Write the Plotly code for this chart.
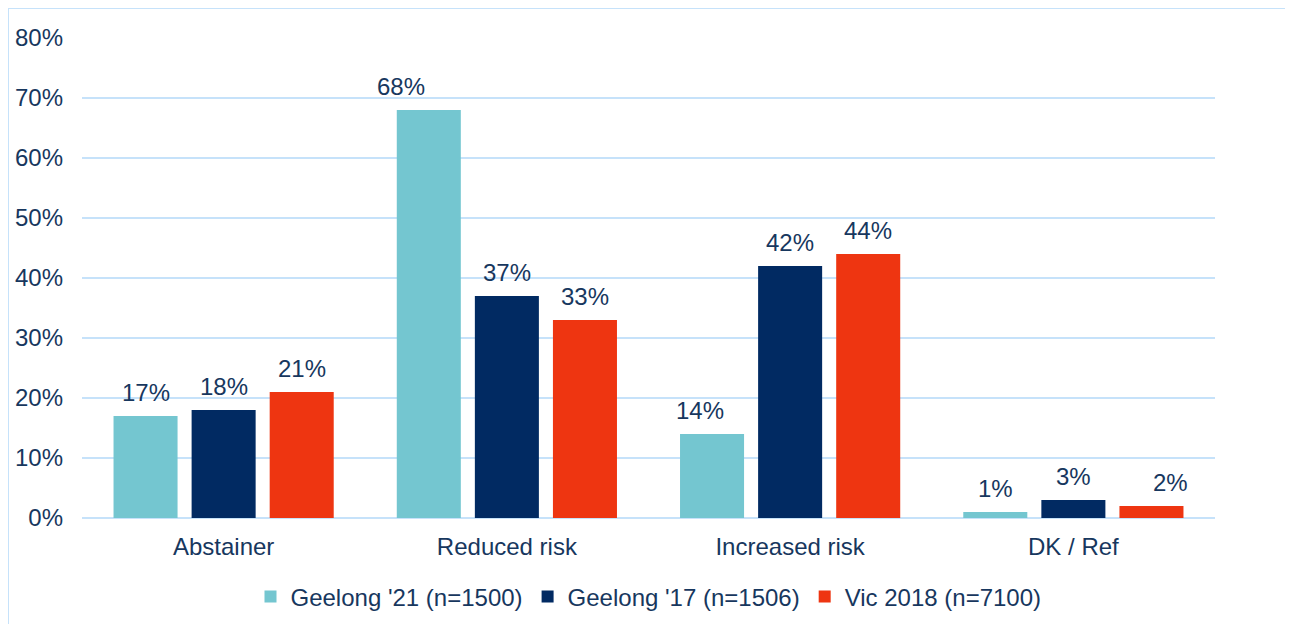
import plotly.graph_objects as go

categories = ["Abstainer", "Reduced risk", "Increased risk", "DK / Ref"]
series_names = ["Geelong '21 (n=1500)", "Geelong '17 (n=1506)", "Vic 2018 (n=7100)"]
geelong21 = [17, 68, 14, 1]
geelong17 = [18, 37, 42, 3]
vic2018 = [21, 33, 44, 2]
y_ticks = [0, 10, 20, 30, 40, 50, 60, 70, 80]

colors = ["#74C6D0", "#012A62", "#EE3511"]
text_color = "#17375E"
font_family = "Liberation Sans, Arial, sans-serif"
fs = 24

# style: horizontal nudges (px) of individual data labels, as placed in the original
label_nudge = [[0, -28, -12, 0], [0, 0, 0, 0], [0, 0, 0, 19]]
slot_px = 78  # width of one bar slot inside a group (px)

fig = go.Figure()
all_vals = [geelong21, geelong17, vic2018]
for name, vals, c in zip(series_names, all_vals, colors):
    fig.add_trace(go.Bar(
        x=categories, y=vals, name=name,
        marker=dict(color=c, line=dict(width=0)),
        hoverinfo="x+y+name",
    ))

for i, vals in enumerate(all_vals):
    for j, (cat, v) in enumerate(zip(categories, vals)):
        fig.add_annotation(
            x=cat, y=v, xref="x", yref="y", text=f"{v}%", showarrow=False,
            xanchor="center", yanchor="middle",
            xshift=(i - 1) * slot_px + label_nudge[i][j], yshift=24,
            font=dict(size=fs, color=text_color, family=font_family),
        )

# the page body adds an 8px offset, so the figure is sized to the remaining area
W, H = 1285, 616
ml, mr, mt, mb = 74, 78, 30, 106
pw, ph = W - ml - mr, H - mt - mb

fig.update_layout(
    width=W, height=H,
    margin=dict(l=ml, r=mr, t=mt, b=mb, autoexpand=False),
    paper_bgcolor="white", plot_bgcolor="white",
    barmode="group", bargap=0.173, bargroupgap=0.18,
    font=dict(family=font_family, size=fs, color=text_color),
    showlegend=True,
    legend=dict(orientation="h", x=0.5, xanchor="center", y=-79 / ph, yanchor="middle",
                font=dict(size=fs, color=text_color), itemwidth=30, traceorder="normal"),
    xaxis=dict(showgrid=False, showline=False, ticks="", tickfont=dict(size=fs, color=text_color),
               ticklabelstandoff=12, automargin=False),
    yaxis=dict(range=[0, 80], tickvals=y_ticks, ticktext=[f"{t}%" for t in y_ticks],
               showgrid=True, gridcolor="#C6E2FA", gridwidth=2, zeroline=True,
               zerolinecolor="#C6E2FA", zerolinewidth=2, showline=False, ticks="",
               tickfont=dict(size=fs, color=text_color), ticklabelstandoff=18, automargin=False),
)

# outer light-blue frame
fig.add_shape(type="rect", xref="paper", yref="paper",
              x0=(0 - ml) / pw, x1=(1283 - ml) / pw,
              y0=(H - mb - 640) / ph, y1=(H - mb - 0) / ph,
              line=dict(color="#C6E2FA", width=2), fillcolor="rgba(0,0,0,0)", layer="below")

fig.write_html("out.html")
